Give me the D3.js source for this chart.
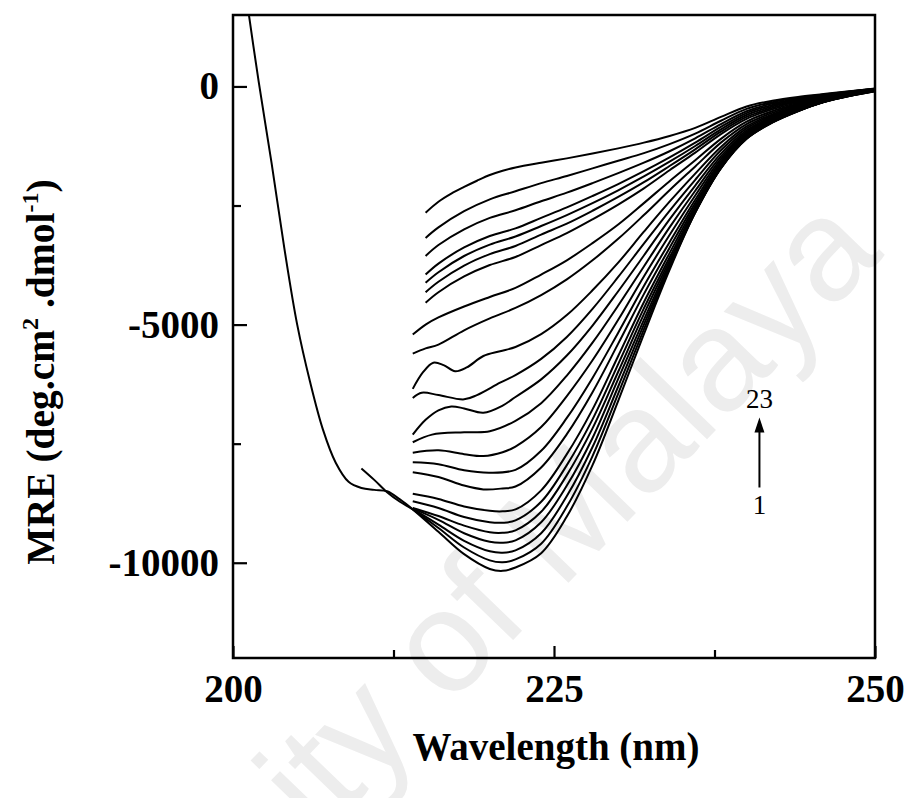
<!DOCTYPE html>
<html><head><meta charset="utf-8">
<script src="https://cdn.jsdelivr.net/npm/d3@7"></script>
<style>
html,body{margin:0;padding:0;background:#fff;}
svg{display:block;}
</style></head>
<body><svg id="chart" width="909" height="798"></svg>
<script>
// ---- tick values ----
const xTicks = [200, 225, 250];
const xMinorTicks = [212.5, 237.5];
const yTicks = [0, -5000, -10000];
const yMinorTicks = [-2500, -7500];

// ---- spectra: [wavelength (nm), MRE] ; curve 1 (bottom) ... curve 23 (top) ----
const c01 = [[201,1950],[202,100],[203,-1600],[204,-3400],[205,-5000],[206,-6200],[207,-7200],[208,-7900],[209,-8300],[210,-8430],[211,-8470],[212,-8500],[213,-8670],[214,-8880],[216,-9350],[218,-9820],[220,-10130],[221,-10170],[222,-10100],[224,-9800],[226,-9030],[228,-7950],[230,-6600],[232,-5200],[234,-3850],[236,-2650],[238,-1720],[240,-1100],[242,-760],[244,-520],[246,-330],[248,-200],[250,-100]];
const c02 = [[210,-8020],[211,-8260],[212,-8520],[213,-8720],[214,-8880],[216,-9270],[218,-9680],[220,-9950],[221,-9990],[222,-9930],[224,-9600],[226,-8820],[228,-7760],[230,-6450],[232,-5100],[234,-3810],[236,-2645],[238,-1715],[240,-1096],[242,-756],[244,-518],[246,-330],[248,-199],[250,-98]];
const c03 = [[214,-8870],[216,-9200],[218,-9540],[220,-9760],[221,-9790],[222,-9740],[224,-9380],[226,-8600],[228,-7570],[230,-6300],[232,-5000],[234,-3770],[236,-2635],[238,-1710],[240,-1090],[242,-752],[244,-515],[246,-328],[248,-198],[250,-95]];
const c04 = [[214,-8860],[216,-9100],[218,-9380],[220,-9560],[221,-9580],[222,-9530],[224,-9150],[226,-8380],[228,-7380],[230,-6140],[232,-4900],[234,-3720],[236,-2620],[238,-1700],[240,-1082],[242,-746],[244,-511],[246,-326],[248,-196],[250,-92]];
const c05 = [[214,-8850],[216,-9020],[218,-9220],[220,-9360],[221,-9370],[222,-9320],[224,-8930],[226,-8160],[228,-7180],[230,-5990],[232,-4780],[234,-3660],[236,-2600],[238,-1690],[240,-1072],[242,-740],[244,-506],[246,-323],[248,-194],[250,-90]];
const c06 = [[214,-8710],[216,-8850],[218,-9040],[220,-9150],[221,-9160],[222,-9110],[224,-8720],[226,-7950],[228,-6990],[230,-5830],[232,-4660],[234,-3590],[236,-2560],[238,-1670],[240,-1060],[242,-732],[244,-500],[246,-320],[248,-191],[250,-88]];
const c07 = [[214,-8550],[216,-8660],[218,-8820],[220,-8910],[221,-8920],[222,-8880],[224,-8480],[226,-7720],[228,-6780],[230,-5660],[232,-4530],[234,-3500],[236,-2510],[238,-1640],[240,-1045],[242,-722],[244,-492],[246,-315],[248,-188],[250,-86]];
const c08 = [[214,-8100],[216,-8200],[218,-8380],[219.5,-8460],[221,-8440],[222,-8400],[224,-8000],[226,-7300],[228,-6420],[230,-5400],[232,-4360],[234,-3390],[236,-2450],[238,-1610],[240,-1025],[242,-710],[244,-484],[246,-310],[248,-184],[250,-84]];
const c09 = [[214,-7890],[216,-7930],[218,-8060],[220,-8110],[222,-8050],[224,-7650],[226,-6960],[228,-6120],[230,-5170],[232,-4190],[234,-3270],[236,-2380],[238,-1570],[240,-1005],[242,-695],[244,-474],[246,-303],[248,-180],[250,-82]];
const c10 = [[214,-7690],[216,-7640],[218,-7720],[219.5,-7760],[221,-7680],[222,-7560],[224,-7150],[226,-6500],[228,-5750],[230,-4900],[232,-3990],[234,-3120],[236,-2290],[238,-1520],[240,-980],[242,-680],[244,-462],[246,-296],[248,-176],[250,-80]];
const c11 = [[214,-7470],[215.5,-7310],[218,-7260],[220,-7240],[222,-7020],[224,-6650],[226,-6070],[228,-5380],[230,-4600],[232,-3780],[234,-2960],[236,-2190],[238,-1470],[240,-950],[242,-660],[244,-450],[246,-288],[248,-172],[250,-78]];
const c12 = [[214,-7310],[215,-7000],[216,-6800],[217,-6720],[218,-6760],[219.5,-6850],[221,-6700],[222,-6520],[224,-6150],[226,-5650],[228,-5020],[230,-4300],[232,-3550],[234,-2790],[236,-2080],[238,-1410],[240,-920],[242,-635],[244,-435],[246,-280],[248,-166],[250,-76]];
const c13 = [[214,-6540],[214.7,-6430],[216,-6480],[218,-6570],[219,-6480],[220.8,-6220],[222,-6060],[224,-5720],[226,-5260],[228,-4670],[230,-4000],[232,-3300],[234,-2610],[236,-1960],[238,-1340],[240,-880],[242,-610],[244,-420],[246,-270],[248,-160],[250,-74]];
const c14 = [[214,-6350],[214.8,-6000],[215.6,-5800],[216.4,-5850],[217.3,-5980],[218.2,-5900],[219.5,-5660],[220.8,-5560],[222,-5470],[224,-5200],[226,-4800],[228,-4280],[230,-3700],[232,-3050],[234,-2420],[236,-1830],[238,-1270],[240,-840],[242,-585],[244,-405],[246,-260],[248,-155],[250,-72]];
const c15 = [[214,-5610],[215,-5500],[216,-5420],[218,-5120],[220,-4870],[222,-4650],[224,-4380],[226,-4050],[228,-3650],[230,-3200],[232,-2700],[234,-2180],[236,-1680],[238,-1180],[240,-790],[242,-555],[244,-385],[246,-248],[248,-148],[250,-70]];
const c16 = [[214,-5210],[215,-5000],[216,-4850],[218,-4620],[220,-4420],[222,-4230],[224,-3950],[226,-3650],[228,-3290],[230,-2900],[232,-2450],[234,-1990],[236,-1550],[238,-1100],[240,-740],[242,-520],[244,-365],[246,-235],[248,-140],[250,-66]];
const c17 = [[215,-4540],[216,-4320],[218,-3990],[220,-3750],[222,-3580],[224,-3330],[226,-3080],[228,-2790],[230,-2480],[232,-2140],[234,-1760],[236,-1390],[238,-1000],[240,-680],[242,-480],[244,-340],[246,-220],[248,-130],[250,-62]];
const c18 = [[215,-4320],[216,-4100],[218,-3760],[220,-3520],[222,-3350],[224,-3110],[226,-2880],[228,-2610],[230,-2320],[232,-2010],[234,-1670],[236,-1320],[238,-950],[240,-640],[242,-450],[244,-320],[246,-210],[248,-125],[250,-60]];
const c19 = [[215,-4120],[216,-3900],[218,-3560],[220,-3320],[222,-3150],[224,-2930],[226,-2700],[228,-2450],[230,-2180],[232,-1890],[234,-1580],[236,-1250],[238,-900],[240,-600],[242,-420],[244,-300],[246,-200],[248,-120],[250,-58]];
const c20 = [[215,-3950],[216,-3720],[218,-3380],[220,-3140],[222,-2980],[224,-2760],[226,-2540],[228,-2300],[230,-2050],[232,-1780],[234,-1490],[236,-1180],[238,-850],[240,-560],[242,-390],[244,-280],[246,-190],[248,-115],[250,-55]];
const c21 = [[215,-3560],[216,-3330],[218,-3000],[220,-2760],[222,-2600],[224,-2410],[226,-2230],[228,-2030],[230,-1820],[232,-1600],[234,-1360],[236,-1090],[238,-790],[240,-520],[242,-360],[244,-260],[246,-180],[248,-110],[250,-52]];
const c22 = [[215,-3180],[216,-2960],[218,-2620],[220,-2370],[222,-2200],[224,-2030],[226,-1880],[228,-1720],[230,-1560],[232,-1400],[234,-1210],[236,-990],[238,-720],[240,-470],[242,-330],[244,-240],[246,-170],[248,-105],[250,-50]];
const c23 = [[215,-2650],[216,-2420],[217,-2250],[218,-2110],[219,-1980],[220,-1860],[221,-1770],[222,-1700],[224,-1600],[226,-1510],[228,-1410],[230,-1300],[232,-1180],[234,-1040],[236,-870],[238,-640],[240,-420],[242,-300],[244,-220],[246,-160],[248,-100],[250,-45]];

const series = [c01,c02,c03,c04,c05,c06,c07,c08,c09,c10,c11,c12,c13,c14,c15,c16,c17,c18,c19,c20,c21,c22,c23];

// annotation (arrow from curve 1 to curve 23)
const arrowX = 241;
const arrowFrom = -8420, arrowTo = -6950;

// ---- layout ----
const m = {left:233, right:875, top:15, bottom:658};
const x = d3.scaleLinear().domain([200,250]).range([m.left, m.right]);
const y = d3.scaleLinear().domain([-12000,1500]).range([m.bottom, m.top]);
const serif = "'Liberation Serif','Times New Roman',serif";
const svg = d3.select('#chart');

// watermark
svg.append('text')
  .attr('transform','translate(885,255) rotate(-46)')
  .attr('text-anchor','end')
  .attr('font-family',"'Liberation Sans',Arial,sans-serif")
  .attr('font-size',145)
  .attr('fill','#ededed')
  .text('University of Malaya');

svg.append('clipPath').attr('id','clip').append('rect')
  .attr('x',m.left).attr('y',m.top).attr('width',m.right-m.left).attr('height',m.bottom-m.top);

const line = d3.line().x(d=>x(d[0])).y(d=>y(d[1])).curve(d3.curveCatmullRom.alpha(0.5));
svg.append('g').attr('clip-path','url(#clip)')
  .selectAll('path').data(series).join('path')
  .attr('d', line).attr('fill','none').attr('stroke','#000').attr('stroke-width',2);

// axes
const gx = svg.append('g').attr('transform',`translate(0,${m.bottom})`)
  .call(d3.axisBottom(x).tickValues(xTicks).tickSize(-12).tickPadding(16).tickFormat(d=>String(d)));
const gxm = svg.append('g').attr('transform',`translate(0,${m.bottom})`)
  .call(d3.axisBottom(x).tickValues(xMinorTicks).tickSize(-8).tickFormat(''));
const gy = svg.append('g').attr('transform',`translate(${m.left},0)`)
  .call(d3.axisLeft(y).tickValues(yTicks).tickSize(-14).tickPadding(14).tickFormat(d=>String(d)));
const gym = svg.append('g').attr('transform',`translate(${m.left},0)`)
  .call(d3.axisLeft(y).tickValues(yMinorTicks).tickSize(-8).tickFormat(''));
[gx,gxm,gy,gym].forEach(g=>{
  g.select('.domain').remove();
  g.selectAll('.tick line').attr('stroke','#000').attr('stroke-width',2.2);
  g.selectAll('.tick text').attr('font-family',serif).attr('font-weight','bold').attr('font-size',39).attr('fill','#000');
});

// frame
svg.append('rect').attr('x',m.left).attr('y',m.top).attr('width',m.right-m.left).attr('height',m.bottom-m.top)
  .attr('fill','none').attr('stroke','#000').attr('stroke-width',2.5);

// axis titles
svg.append('text').attr('x',556).attr('y',760).attr('text-anchor','middle')
  .attr('font-family',serif).attr('font-weight','bold').attr('font-size',39).text('Wavelength (nm)');
const yt = svg.append('text').attr('transform','translate(54,372) rotate(-90)').attr('text-anchor','middle')
  .attr('font-family',serif).attr('font-weight','bold').attr('font-size',39.5);
yt.append('tspan').text('MRE (deg.cm');
yt.append('tspan').attr('dy',-16).attr('font-size',24).text('2');
yt.append('tspan').attr('dy',16).text(' .dmol');
yt.append('tspan').attr('dy',-16).attr('font-size',24).text('-1');
yt.append('tspan').attr('dy',16).text(')');

// arrow annotation
const ax = x(arrowX), ay1 = y(arrowFrom), ay2 = y(arrowTo);
svg.append('line').attr('x1',ax).attr('x2',ax).attr('y1',ay1).attr('y2',ay2+12).attr('stroke','#000').attr('stroke-width',2);
svg.append('path').attr('d',`M${ax},${ay2} L${ax-5},${ay2+15} L${ax+5},${ay2+15} Z`).attr('fill','#000');
svg.append('text').attr('x',ax).attr('y',ay2-9).attr('text-anchor','middle')
  .attr('font-family',serif).attr('font-size',27).text('23');
svg.append('text').attr('x',ax).attr('y',ay1+27).attr('text-anchor','middle')
  .attr('font-family',serif).attr('font-size',27).text('1');
</script>
</body></html>
